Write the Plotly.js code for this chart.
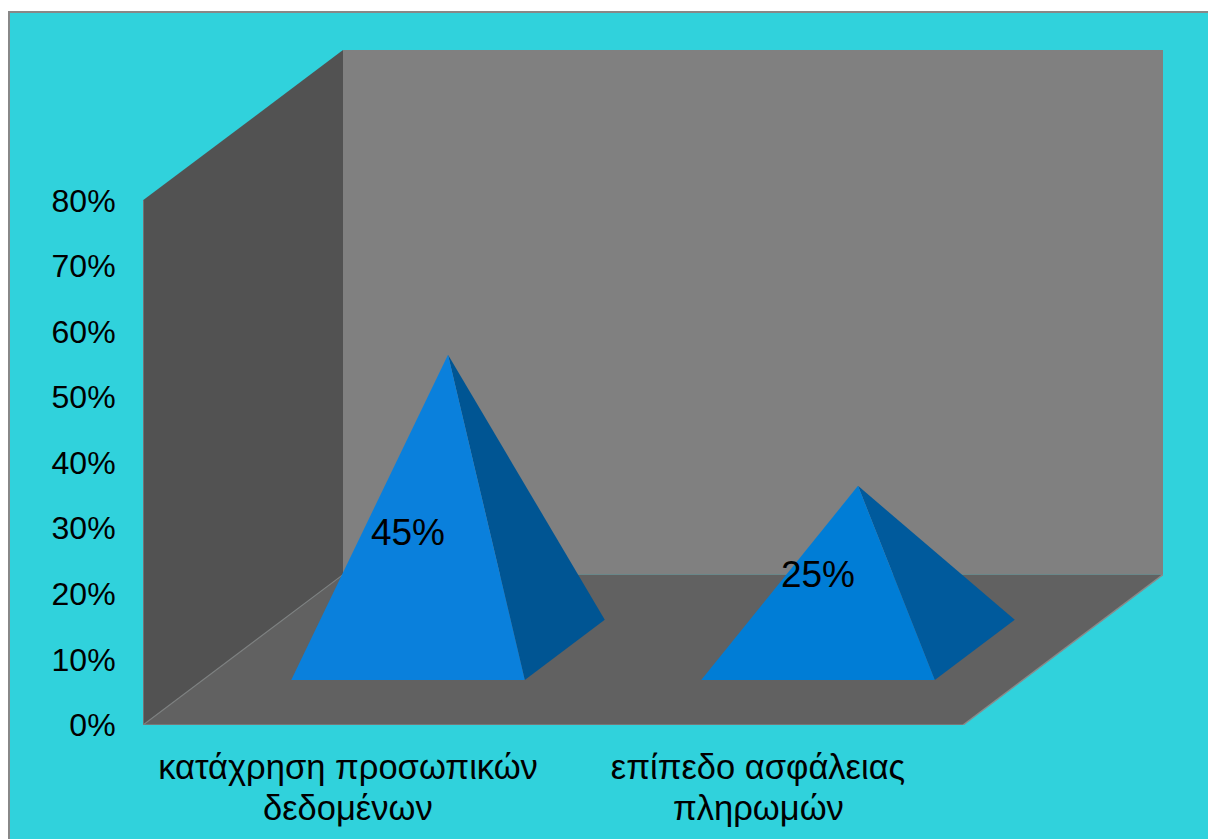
<!DOCTYPE html>
<html>
<head>
<meta charset="utf-8">
<title>Pyramid chart</title>
<script src="https://cdn.plot.ly/plotly-3.0.1.min.js"></script>
<style>
  html, body { margin: 0; padding: 0; background: #ffffff; overflow: hidden; }
  #frame {
    position: absolute; left: 8px; top: 11px; width: 1200px; height: 828px;
    box-sizing: border-box; border-left: 2px solid #888888; border-top: 2px solid #888888;
    background: #30d2dc;
  }
</style>
</head>
<body>
<div id="frame"><div id="chart"></div></div>
<script>
// Chart data
const categoryFirstLines = ["κατάχρηση προσωπικών", "επίπεδο ασφάλειας"];
const categorySecondLines = ["δεδομένων", "πληρωμών"];
const percentages = [45, 25];
const percentTicks = [0, 10, 20, 30, 40, 50, 60, 70, 80];

// Oblique projection: depth 0 is the front of the floor, depth 1 the back wall.
const DEPTH_X = 0.4878;   // shift in category units over the full depth
const DEPTH_Y = 22.93;    // rise in percentage units over the full depth
const AXIS_MAX = 80;
const HALF_WIDTH = 0.2848;
const BASE_FRONT = 0.3, BASE_BACK = 0.7, BASE_MID = 0.5;
const LABEL_HEIGHTS = [28.85, 22.4];  // vertical placement of the value labels
const FONT = "Liberation Sans, Arial, sans-serif";

const project = (x, depth, value) => [x + depth * DEPTH_X, value + depth * DEPTH_Y];

function polygon(points, color) {
  return {
    type: "scatter", mode: "lines", fill: "toself", fillcolor: color,
    x: points.map(p => p[0]).concat(points[0][0]),
    y: points.map(p => p[1]).concat(points[0][1]),
    line: { width: 0, color: color }, hoverinfo: "skip", showlegend: false, cliponaxis: false
  };
}

function edge(a, b, color, width) {
  return {
    type: "scatter", mode: "lines", x: [a[0], b[0]], y: [a[1], b[1]],
    line: { color: color, width: width }, hoverinfo: "skip", showlegend: false, cliponaxis: false
  };
}

const X0 = -0.5, X1 = 1.5;
const traces = [
  // Side wall, back wall and floor of the 3D box
  polygon([project(X0, 0, 0), project(X0, 1, 0), project(X0, 1, AXIS_MAX), project(X0, 0, AXIS_MAX)], "#525252"),
  polygon([project(X0, 1, 0), project(X1, 1, 0), project(X1, 1, AXIS_MAX), project(X0, 1, AXIS_MAX)], "#808080"),
  polygon([project(X0, 0, 0), project(X1, 0, 0), project(X1, 1, 0), project(X0, 1, 0)], "#616161"),
  edge(project(X0, 0, 0), project(X0, 0, AXIS_MAX), "#7f7f7f", 1.5),
  edge(project(X0, 0, 0), project(X1, 0, 0), "#7f7f7f", 1.5),
  edge(project(X1, 0, 0), project(X1, 1, 0), "#8a8a8a", 1.5),
  edge(project(X0, 0, 0), project(X0, 1, 0), "#7f7f7f", 1.2)
];

// One pyramid per category: the front face and the shaded right face
const faceColors = [["#0a80dc", "#005593"], ["#007dd6", "#005a9c"]];
percentages.forEach((value, i) => {
  const apex = project(i, BASE_MID, value);
  const frontLeft = project(i - HALF_WIDTH, BASE_FRONT, 0);
  const frontRight = project(i + HALF_WIDTH, BASE_FRONT, 0);
  const backRight = project(i + HALF_WIDTH, BASE_BACK, 0);
  traces.push(polygon([frontRight, backRight, apex], faceColors[i][1]));
  traces.push(polygon([frontLeft, frontRight, apex], faceColors[i][0]));
});

// Value labels on the front faces
traces.push({
  type: "scatter", mode: "text",
  x: percentages.map((_, i) => project(i, BASE_FRONT, 0)[0]),
  y: LABEL_HEIGHTS,
  text: percentages.map(v => v + "%"),
  textposition: "middle center",
  textfont: { family: FONT, size: 37, color: "#000000" },
  hoverinfo: "skip", showlegend: false, cliponaxis: false
});

const layout = {
  width: 1198, height: 826,
  margin: { l: 133, r: 45, t: 37, b: 113.5, pad: 0 },
  paper_bgcolor: "rgba(0,0,0,0)",
  plot_bgcolor: "rgba(0,0,0,0)",
  showlegend: false,
  font: { family: FONT, color: "#000000" },
  xaxis: {
    range: [X0, X1 + DEPTH_X], fixedrange: true,
    tickmode: "array", tickvals: categoryFirstLines.map((_, i) => i), ticktext: categoryFirstLines,
    tickangle: 0, tickfont: { size: 34.5, color: "#000000" },
    ticks: "outside", ticklen: 12, tickcolor: "rgba(0,0,0,0)",
    showgrid: false, zeroline: false, showline: false
  },
  yaxis: {
    range: [0, AXIS_MAX + DEPTH_Y], fixedrange: true,
    tickmode: "array", tickvals: percentTicks, ticktext: percentTicks.map(v => v + "%"),
    tickfont: { size: 32, color: "#000000" },
    ticks: "outside", ticklen: 20, tickcolor: "rgba(0,0,0,0)",
    showgrid: false, zeroline: false, showline: false
  },
  // The second line of each category label sits a fixed distance under the tick label
  annotations: categorySecondLines.map((text, i) => ({
    text: text, x: i, y: 0, xref: "x", yref: "y",
    xanchor: "center", yanchor: "top", yshift: -62, showarrow: false,
    font: { family: FONT, size: 34.5, color: "#000000" }
  }))
};

Plotly.newPlot("chart", traces, layout, { displayModeBar: false, staticPlot: true });
</script>
</body>
</html>
